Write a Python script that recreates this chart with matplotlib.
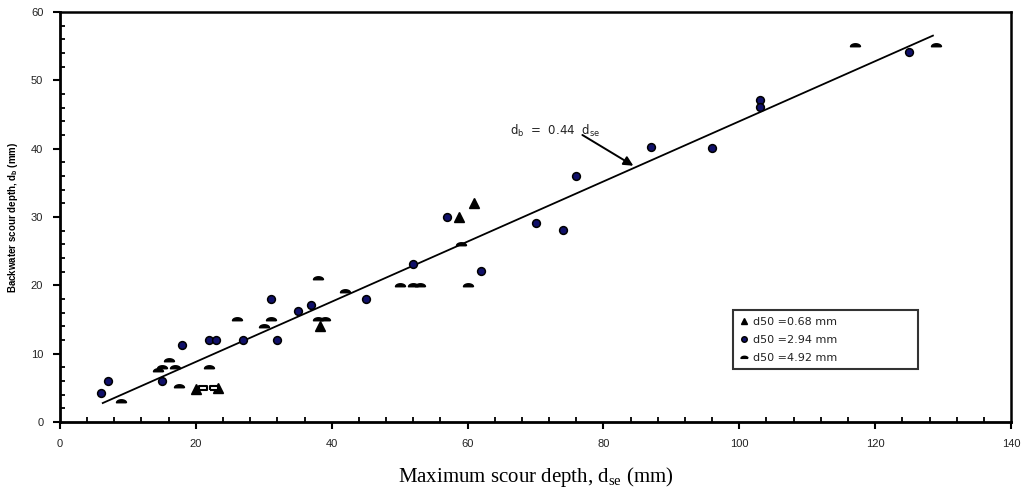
import numpy as np
import matplotlib
matplotlib.use("Agg")
import matplotlib.pyplot as plt
from matplotlib.ticker import MultipleLocator

# backwater scour vs maximum scour, three sediment sizes
tri_x = [20, 23.3, 38.3, 58.8, 61]
tri_y = [4.8, 5.0, 14, 30, 32]

circ_x = [6, 7, 15, 18, 22, 23, 27, 31, 32, 35, 37, 45, 52, 57, 62,
          70, 74, 76, 87, 96, 103, 103, 125]
circ_y = [4.2, 6, 6, 11.2, 12, 12, 12, 18, 12, 16.2, 17.1, 18, 23.1, 30, 22.1,
          29.1, 28.1, 36, 40.2, 40.1, 47.1, 46.1, 54.1]

dash_x = [9, 14.5, 15, 16, 17, 17.5, 22, 26, 30, 31, 38, 38, 39, 42,
          50, 52, 53, 59, 60, 117, 129]
dash_y = [3, 7.6, 8, 9, 8, 5.2, 8, 15, 14.1, 15, 21, 15, 15, 19.1,
          20, 20, 20, 26, 20, 55.2, 55.2]

open_x = [21, 22.7]
open_y = [5, 5]

labels = ['d50 =0.68 mm', 'd50 =2.94 mm', 'd50 =4.92 mm']
slope = 0.44
fit_range = [6.3, 128.5]

# flat half-ellipse marker
t = np.linspace(0, np.pi, 20)
half = list(zip(np.cos(t), 0.6 * np.sin(t) - 0.25))
half.append((1, -0.25))
rect = [(-1, -0.55), (1, -0.55), (1, 0.55), (-1, 0.55), (-1, -0.55)]

fig = plt.figure(figsize=(10.32, 4.95), dpi=100)
ax = fig.add_axes([0.0581, 0.1475, 0.9216, 0.8283])

xf = np.array(fit_range)
ax.plot(xf, slope * xf, color='black', lw=1.3, zorder=2)

h1, = ax.plot(tri_x, tri_y, ls='none', marker='^', ms=7, color='black',
              mec='black', zorder=3, label=labels[0])
h2, = ax.plot(circ_x, circ_y, ls='none', marker='o', ms=5.6, mfc='#10106a',
              mec='black', mew=1.1, zorder=4, label=labels[1])
h3, = ax.plot(dash_x, dash_y, ls='none', marker=half, ms=7.2, color='black',
              zorder=4, label=labels[2])
ax.plot(open_x, open_y, ls='none', marker=rect, ms=5.2, mfc='white',
        mec='black', mew=1.5, zorder=5)

ax.set_xlim(0, 140)
ax.set_ylim(0, 60)
ax.xaxis.set_major_locator(MultipleLocator(20))
ax.xaxis.set_minor_locator(MultipleLocator(4))
ax.yaxis.set_major_locator(MultipleLocator(10))
ax.yaxis.set_minor_locator(MultipleLocator(2))
ax.tick_params(which='major', direction='out', length=5, width=1.5,
               labelsize=8, pad=7, colors='black')
ax.tick_params(which='minor', direction='in', length=3.5, width=1.3)
for lab in ax.get_xticklabels() + ax.get_yticklabels():
    lab.set_family('Liberation Sans')
    lab.set_color('#222222')
for side in ['left', 'bottom']:
    ax.spines[side].set_linewidth(2)
for side in ['top', 'right']:
    ax.spines[side].set_linewidth(1.8)

ax.set_ylabel(r'Backwater scour depth, d$_\mathregular{b}$ (mm)',
              family='Liberation Sans', fontweight='bold', fontsize=7,
              labelpad=8)
ax.set_xlabel(r'Maximum scour depth, d$_\mathregular{se}$ (mm)',
              family='Liberation Serif', fontsize=15, labelpad=12)

ax.text(66.3, 42.6, r'd$_\mathregular{b}$  =  0.44  d$_\mathregular{se}$',
        fontsize=8.5, family='DejaVu Sans', color='#222222',
        va='center', ha='left')
ax.annotate('', xy=(84.4, 37.5), xytext=(76.9, 42.0),
            arrowprops=dict(arrowstyle='-|>', color='black', lw=1.4,
                            mutation_scale=14, shrinkA=0, shrinkB=0))

leg = ax.legend(handles=[h1, h2, h3], loc='lower left',
                bbox_to_anchor=(0.702, 0.115, 0.206, 0.178), mode='expand',
                frameon=True, fancybox=False, edgecolor='black',
                handlelength=0.8, handletextpad=0.4,
                markerscale=0.7, borderpad=0.6, labelspacing=0.7,
                prop={'family': 'DejaVu Sans', 'size': 8})
leg.get_frame().set_linewidth(1.5)
for txt in leg.get_texts():
    txt.set_color('#222222')

fig.savefig('out.png', dpi=100)
